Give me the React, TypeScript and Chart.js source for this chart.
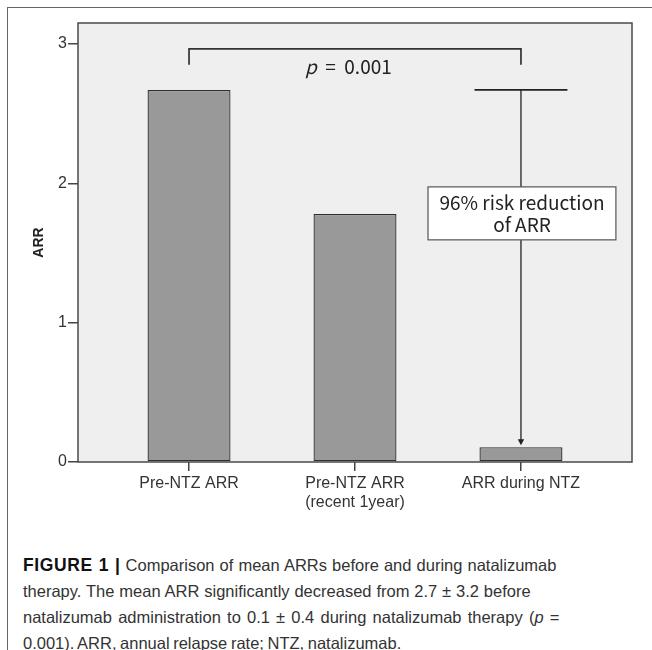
import React, { useEffect, useRef } from "react";
import { Chart, registerables } from "chart.js";

Chart.register(...registerables);

// ---- data ----
const categories: (string | string[])[] = [
  "Pre-NTZ ARR",
  ["Pre-NTZ ARR", "(recent 1year)"],
  "ARR during NTZ",
];
const arrValues = [2.67, 1.78, 0.106];
const yTickValues = [0, 1, 2, 3];
const errorUpper = 2.67; // whisker top drawn above "ARR during NTZ"
const pValueText = "0.001";
const boxLines = ["96% risk reduction", "of ARR"];

// ---- annotation placement (data units) ----
const ann = {
  bracketFrom: 0,
  bracketTo: 2,
  bracketTop: 2.965,
  bracketLeg: 2.85,
  pX: 0.96,
  pY: 2.785,
  capHalf: 0.28,
  boxX0: 1.44,
  boxX1: 2.572,
  boxY0: 1.594,
  boxY1: 1.974,
  boxBase: [1.809, 1.651],
};

const FONT = "'Liberation Sans', Arial, sans-serif";
const KFONT = "'Noto Sans CJK KR', 'Noto Sans', sans-serif";

const framePlugin = {
  id: "frame",
  beforeDraw(chart: any) {
    const { ctx, chartArea: a } = chart;
    ctx.save();
    ctx.fillStyle = "#efefef";
    ctx.fillRect(a.left, a.top, a.right - a.left, a.bottom - a.top);
    ctx.restore();
  },
  afterDatasetsDraw(chart: any) {
    const { ctx, chartArea: a, scales } = chart;
    const xs = scales.x;
    const ys = scales.y;
    const X = (v: number) => xs.getPixelForValue(v);
    const Y = (v: number) => ys.getPixelForValue(v);
    ctx.save();
    // plot border
    ctx.strokeStyle = "#4a4a4a";
    ctx.lineWidth = 1.5;
    ctx.strokeRect(a.left, a.top, a.right - a.left, a.bottom - a.top);

    // bracket
    ctx.strokeStyle = "#333";
    ctx.lineWidth = 1.7;
    ctx.beginPath();
    ctx.moveTo(X(ann.bracketFrom), Y(ann.bracketLeg));
    ctx.lineTo(X(ann.bracketFrom), Y(ann.bracketTop));
    ctx.lineTo(X(ann.bracketTo), Y(ann.bracketTop));
    ctx.lineTo(X(ann.bracketTo), Y(ann.bracketLeg));
    ctx.stroke();

    // p-value
    const fs = 19;
    ctx.fillStyle = "#222";
    ctx.textBaseline = "alphabetic";
    ctx.textAlign = "left";
    ctx.font = `italic ${fs}px ${KFONT}`;
    const wP = ctx.measureText("p").width;
    ctx.font = `${fs}px ${KFONT}`;
    const restSpaced = "  =  " + pValueText;
    const wR = ctx.measureText(restSpaced).width;
    const startX = X(ann.pX) - (wP + wR) / 2;
    ctx.font = `italic ${fs}px ${KFONT}`;
    ctx.fillText("p", startX, Y(ann.pY));
    ctx.font = `${fs}px ${KFONT}`;
    ctx.fillText(restSpaced, startX + wP, Y(ann.pY));

    // whisker cap + arrow on the third bar
    const cx = X(2);
    ctx.strokeStyle = "#222";
    ctx.lineWidth = 1.7;
    ctx.beginPath();
    ctx.moveTo(X(2 - ann.capHalf), Y(errorUpper));
    ctx.lineTo(X(2 + ann.capHalf), Y(errorUpper));
    ctx.stroke();
    ctx.lineWidth = 1.3;
    const tipY = Y(arrValues[2]) - 2;
    ctx.beginPath();
    ctx.moveTo(cx, Y(errorUpper));
    ctx.lineTo(cx, tipY - 5);
    ctx.stroke();
    ctx.fillStyle = "#222";
    ctx.beginPath();
    ctx.moveTo(cx - 3.2, tipY - 6);
    ctx.lineTo(cx + 3.2, tipY - 6);
    ctx.lineTo(cx, tipY);
    ctx.closePath();
    ctx.fill();

    // text box
    const bx0 = X(ann.boxX0), bx1 = X(ann.boxX1);
    const by0 = Y(ann.boxY1), by1 = Y(ann.boxY0);
    ctx.fillStyle = "#ffffff";
    ctx.fillRect(bx0, by0, bx1 - bx0, by1 - by0);
    ctx.strokeStyle = "#555";
    ctx.lineWidth = 1.2;
    ctx.strokeRect(bx0, by0, bx1 - bx0, by1 - by0);
    ctx.fillStyle = "#222";
    ctx.font = `${fs}px ${KFONT}`;
    ctx.textAlign = "center";
    boxLines.forEach((t, i) => {
      ctx.fillText(t, (bx0 + bx1) / 2, Y(ann.boxBase[i]));
    });
    ctx.restore();
  },
};

export default function App() {
  const ref = useRef<HTMLCanvasElement | null>(null);

  useEffect(() => {
    if (!ref.current) return;
    const chart = new Chart(ref.current, {
      type: "bar",
      data: {
        datasets: [
          {
            data: arrValues.map((v, i) => ({ x: i, y: v })),
            backgroundColor: "#999999",
            borderColor: "#2e2e2e",
            borderWidth: 1.3,
            borderSkipped: false,
            barPercentage: 0.5,
            categoryPercentage: 1,
          } as any,
        ],
      },
      options: {
        animation: false,
        responsive: true,
        maintainAspectRatio: false,
        events: [],
        layout: { padding: { left: 0, top: 23, right: 20, bottom: 0 } },
        plugins: { legend: { display: false }, tooltip: { enabled: false } },
        scales: {
          x: {
            type: "linear",
            offset: false,
            min: -0.669,
            max: 2.669,
            afterBuildTicks: (s: any) => {
              s.ticks = categories.map((_, i) => ({ value: i }));
            },
            afterFit: (s: any) => {
              s.height = 68;
            },
            grid: {
              offset: false,
              drawOnChartArea: false,
              drawTicks: true,
              tickLength: 9,
              color: "#444",
              lineWidth: 1.5,
            },
            border: { display: false },
            ticks: {
              padding: 3,
              color: "#333",
              autoSkip: false,
              maxRotation: 0,
              font: { family: FONT, size: 16, lineHeight: 1.2 },
              callback: (v: any) => categories[v as number] as any,
            },
          },
          y: {
            min: 0,
            max: 3.15,
            afterBuildTicks: (s: any) => {
              s.ticks = yTickValues.map((v) => ({ value: v }));
            },
            afterFit: (s: any) => {
              s.width = 78;
            },
            grid: {
              drawOnChartArea: false,
              drawTicks: true,
              tickLength: 10,
              color: "#444",
              lineWidth: 1.5,
            },
            border: { display: false },
            ticks: {
              padding: 1,
              color: "#333",
              font: { family: FONT, size: 16 },
            },
            title: {
              display: true,
              text: "ARR",
              color: "#222",
              font: { family: FONT, size: 14, weight: "bold" },
              padding: { top: 31, bottom: 0 },
            },
          },
        },
      },
      plugins: [framePlugin],
    } as any);
    return () => chart.destroy();
  }, []);

  const line = (ws: number) => ({ display: "block", wordSpacing: ws, whiteSpace: "nowrap" as const });

  return (
    <div
      style={{
        position: "absolute",
        left: 0,
        top: 0,
        width: 652,
        height: 650,
        overflow: "hidden",
        background: "#fff",
      }}
    >
      <div
        style={{
          position: "absolute",
          left: 7,
          top: 7,
          width: 800,
          height: 800,
          borderLeft: "1px solid #666",
          borderTop: "1px solid #666",
        }}
      />
      <div style={{ position: "absolute", left: 0, top: 0, width: 652, height: 530 }}>
        <canvas ref={ref} />
      </div>
      <div
        style={{
          position: "absolute",
          left: 23,
          top: 552,
          fontFamily: FONT,
          fontSize: 16.5,
          lineHeight: "26px",
          color: "#333",
        }}
      >
        <span style={line(0.5)}>
          <b style={{ color: "#111", fontSize: 17.5, letterSpacing: 0.6 }}>FIGURE 1 |</b> Comparison of mean ARRs before and during natalizumab
        </span>
        <span style={line(0.3)}>therapy. The mean ARR significantly decreased from 2.7 ± 3.2 before</span>
        <span style={line(1.6)}>
          natalizumab administration to 0.1 ± 0.4 during natalizumab therapy (<i>p</i> =
        </span>
        <span style={line(-1)}>0.001). ARR, annual relapse rate; NTZ, natalizumab.</span>
      </div>
    </div>
  );
}
